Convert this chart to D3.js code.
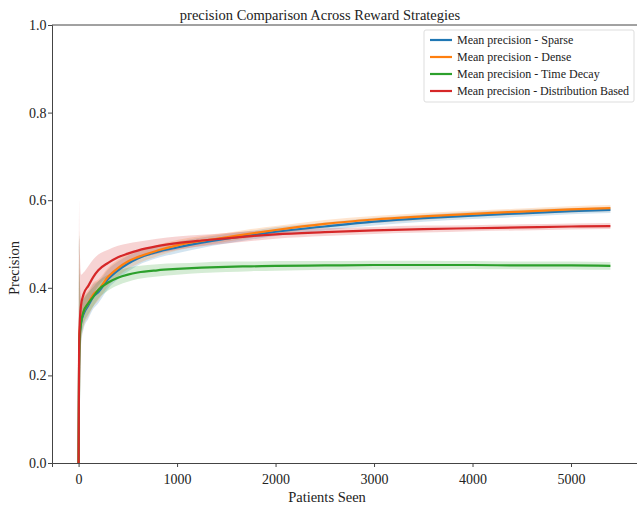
<!DOCTYPE html>
<html lang="en">
<head>
<meta charset="UTF-8">
<script src="https://cdnjs.cloudflare.com/ajax/libs/d3/7.8.5/d3.min.js"></script>
<title>precision Comparison</title>
<style>
    body { margin: 0; background: #fff; }
    svg { display: block; font-family: "Liberation Serif", "Times New Roman", serif; }
    .axis path, .axis line { stroke: #444; }
    .axis text { font-size: 14px; fill: #222; font-family: "Liberation Serif", serif; }
</style>
</head>
<body>
<svg id="chart" width="637" height="506"></svg>
<script>
    // patients seen (x) sample points
    var patients = [0, 5, 10, 25, 50, 100, 150, 200, 300, 400, 500, 600, 800, 1000, 1250, 1500,
        1750, 2000, 2500, 3000, 3500, 4000, 4500, 5000, 5400];

    var sparse = [0, 0.22, 0.29, 0.32, 0.34, 0.36, 0.38, 0.39, 0.42, 0.44, 0.455, 0.467, 0.482, 0.492,
        0.503, 0.512, 0.52, 0.528, 0.54, 0.551, 0.559, 0.565, 0.57, 0.575, 0.578];
    var dense = [0, 0.23, 0.3, 0.325, 0.345, 0.365, 0.385, 0.395, 0.425, 0.445, 0.46, 0.47, 0.485, 0.497,
        0.507, 0.515, 0.524, 0.532, 0.546, 0.556, 0.563, 0.569, 0.574, 0.579, 0.582];
    var timeDecay = [0, 0.22, 0.28, 0.32, 0.345, 0.365, 0.38, 0.395, 0.412, 0.423, 0.43, 0.435, 0.44, 0.443,
        0.446, 0.448, 0.449, 0.45, 0.451, 0.452, 0.452, 0.452, 0.451, 0.451, 0.45];
    var distribution = [0, 0.25, 0.31, 0.36, 0.385, 0.405, 0.425, 0.44, 0.457, 0.47, 0.478, 0.485, 0.495, 0.502,
        0.508, 0.513, 0.518, 0.522, 0.527, 0.531, 0.534, 0.536, 0.538, 0.54, 0.541];

    // half width of the shaded band (std)
    var sparseStd = [0, 0.3, 0.15, 0.05, 0.035, 0.03, 0.028, 0.025, 0.022, 0.02, 0.018, 0.016, 0.014, 0.013,
        0.012, 0.011, 0.01, 0.01, 0.009, 0.009, 0.008, 0.008, 0.008, 0.007, 0.007];
    var denseStd = [0, 0.3, 0.15, 0.05, 0.035, 0.03, 0.027, 0.024, 0.021, 0.019, 0.017, 0.015, 0.013, 0.012,
        0.011, 0.01, 0.01, 0.009, 0.009, 0.008, 0.008, 0.007, 0.007, 0.007, 0.007];
    var timeDecayStd = [0, 0.3, 0.15, 0.04, 0.03, 0.025, 0.022, 0.02, 0.018, 0.017, 0.016, 0.015, 0.014, 0.013,
        0.012, 0.012, 0.011, 0.011, 0.01, 0.01, 0.01, 0.009, 0.009, 0.009, 0.009];
    var distributionStd = [0, 0.35, 0.2, 0.07, 0.05, 0.045, 0.04, 0.036, 0.03, 0.026, 0.023, 0.02, 0.017, 0.015,
        0.013, 0.012, 0.011, 0.01, 0.009, 0.008, 0.008, 0.007, 0.007, 0.007, 0.007];

    var seriesNames = ['Mean precision - Sparse', 'Mean precision - Dense',
        'Mean precision - Time Decay', 'Mean precision - Distribution Based'];
    var seriesValues = [sparse, dense, timeDecay, distribution];
    var seriesStd = [sparseStd, denseStd, timeDecayStd, distributionStd];
    var colors = ['#1f77b4', '#ff7f0e', '#2ca02c', '#d62728'];

    var xTicks = [0, 1000, 2000, 3000, 4000, 5000];
    var yTicks = [0, 0.2, 0.4, 0.6, 0.8, 1.0];

    var svg = d3.select('#chart');
    var plotLeft = 52, plotTop = 25, plotRight = 637, plotBottom = 463;

    var x = d3.scaleLinear().domain([-270, 5670]).range([plotLeft, plotRight]);
    var y = d3.scaleLinear().domain([0, 1]).range([plotBottom, plotTop]);

    var series = seriesNames.map(function (name, i) {
        return {
            name: name,
            color: colors[i],
            points: patients.map(function (p, j) {
                return {x: p, y: seriesValues[i][j], s: seriesStd[i][j]};
            })
        };
    });

    var plot = svg.append('g');

    var area = d3.area()
        .x(function (d) { return x(d.x); })
        .y0(function (d) { return y(Math.max(0, d.y - d.s)); })
        .y1(function (d) { return y(d.y + d.s); })
        .curve(d3.curveMonotoneX);

    var line = d3.line()
        .x(function (d) { return x(d.x); })
        .y(function (d) { return y(d.y); })
        .curve(d3.curveMonotoneX);

    plot.selectAll('.band')
        .data(series)
        .enter().append('path')
        .attr('class', 'band')
        .attr('d', function (d) { return area(d.points); })
        .attr('fill', function (d) { return d.color; })
        .attr('opacity', 0.2);

    plot.selectAll('.line')
        .data(series)
        .enter().append('path')
        .attr('class', 'line')
        .attr('d', function (d) { return line(d.points); })
        .attr('fill', 'none')
        .attr('stroke', function (d) { return d.color; })
        .attr('stroke-width', 2.2);

    // axes
    svg.append('g')
        .attr('class', 'axis')
        .attr('transform', 'translate(0,' + plotBottom + ')')
        .call(d3.axisBottom(x).tickValues(xTicks).tickFormat(d3.format('d')).tickSizeOuter(0).tickSize(4))
        .call(function (g) { g.selectAll('text').attr('dy', '1em'); });

    svg.append('g')
        .attr('class', 'axis')
        .attr('transform', 'translate(' + plotLeft + ',0)')
        .call(d3.axisLeft(y).tickValues(yTicks).tickFormat(d3.format('.1f')).tickSizeOuter(0).tickSize(4))
        .call(function (g) { g.selectAll('text').attr('dx', '0.1em'); });

    // top spine
    svg.append('line')
        .attr('x1', plotLeft).attr('x2', plotRight)
        .attr('y1', plotTop).attr('y2', plotTop)
        .attr('stroke', '#444');

    svg.append('text')
        .attr('x', 320).attr('y', 20)
        .attr('text-anchor', 'middle')
        .attr('font-size', 14.5)
        .attr('fill', '#222')
        .text('precision Comparison Across Reward Strategies');

    svg.append('text')
        .attr('x', 327).attr('y', 502)
        .attr('text-anchor', 'middle')
        .attr('font-size', 14.5)
        .attr('fill', '#222')
        .text('Patients Seen');

    svg.append('text')
        .attr('transform', 'translate(19,' + 268 + ') rotate(-90)')
        .attr('text-anchor', 'middle')
        .attr('font-size', 14.5)
        .attr('fill', '#222')
        .text('Precision');

    // legend
    var legend = svg.append('g').attr('transform', 'translate(424,30)');
    legend.append('rect')
        .attr('width', 210).attr('height', 72)
        .attr('rx', 2)
        .attr('fill', '#fff').attr('fill-opacity', 0.8)
        .attr('stroke', '#ddd');
    var item = legend.selectAll('.item')
        .data(series)
        .enter().append('g')
        .attr('class', 'item')
        .attr('transform', function (d, i) { return 'translate(6,' + (10 + i * 17) + ')'; });
    item.append('line')
        .attr('x1', 0).attr('x2', 22)
        .attr('stroke', function (d) { return d.color; })
        .attr('stroke-width', 2.2);
    item.append('text')
        .attr('x', 27).attr('dy', '0.35em')
        .attr('font-size', 12)
        .attr('fill', '#222')
        .attr('textLength', function (d, i) { return i === 3 ? 172 : null; })
        .text(function (d) { return d.name; });
</script>
</body>
</html>
